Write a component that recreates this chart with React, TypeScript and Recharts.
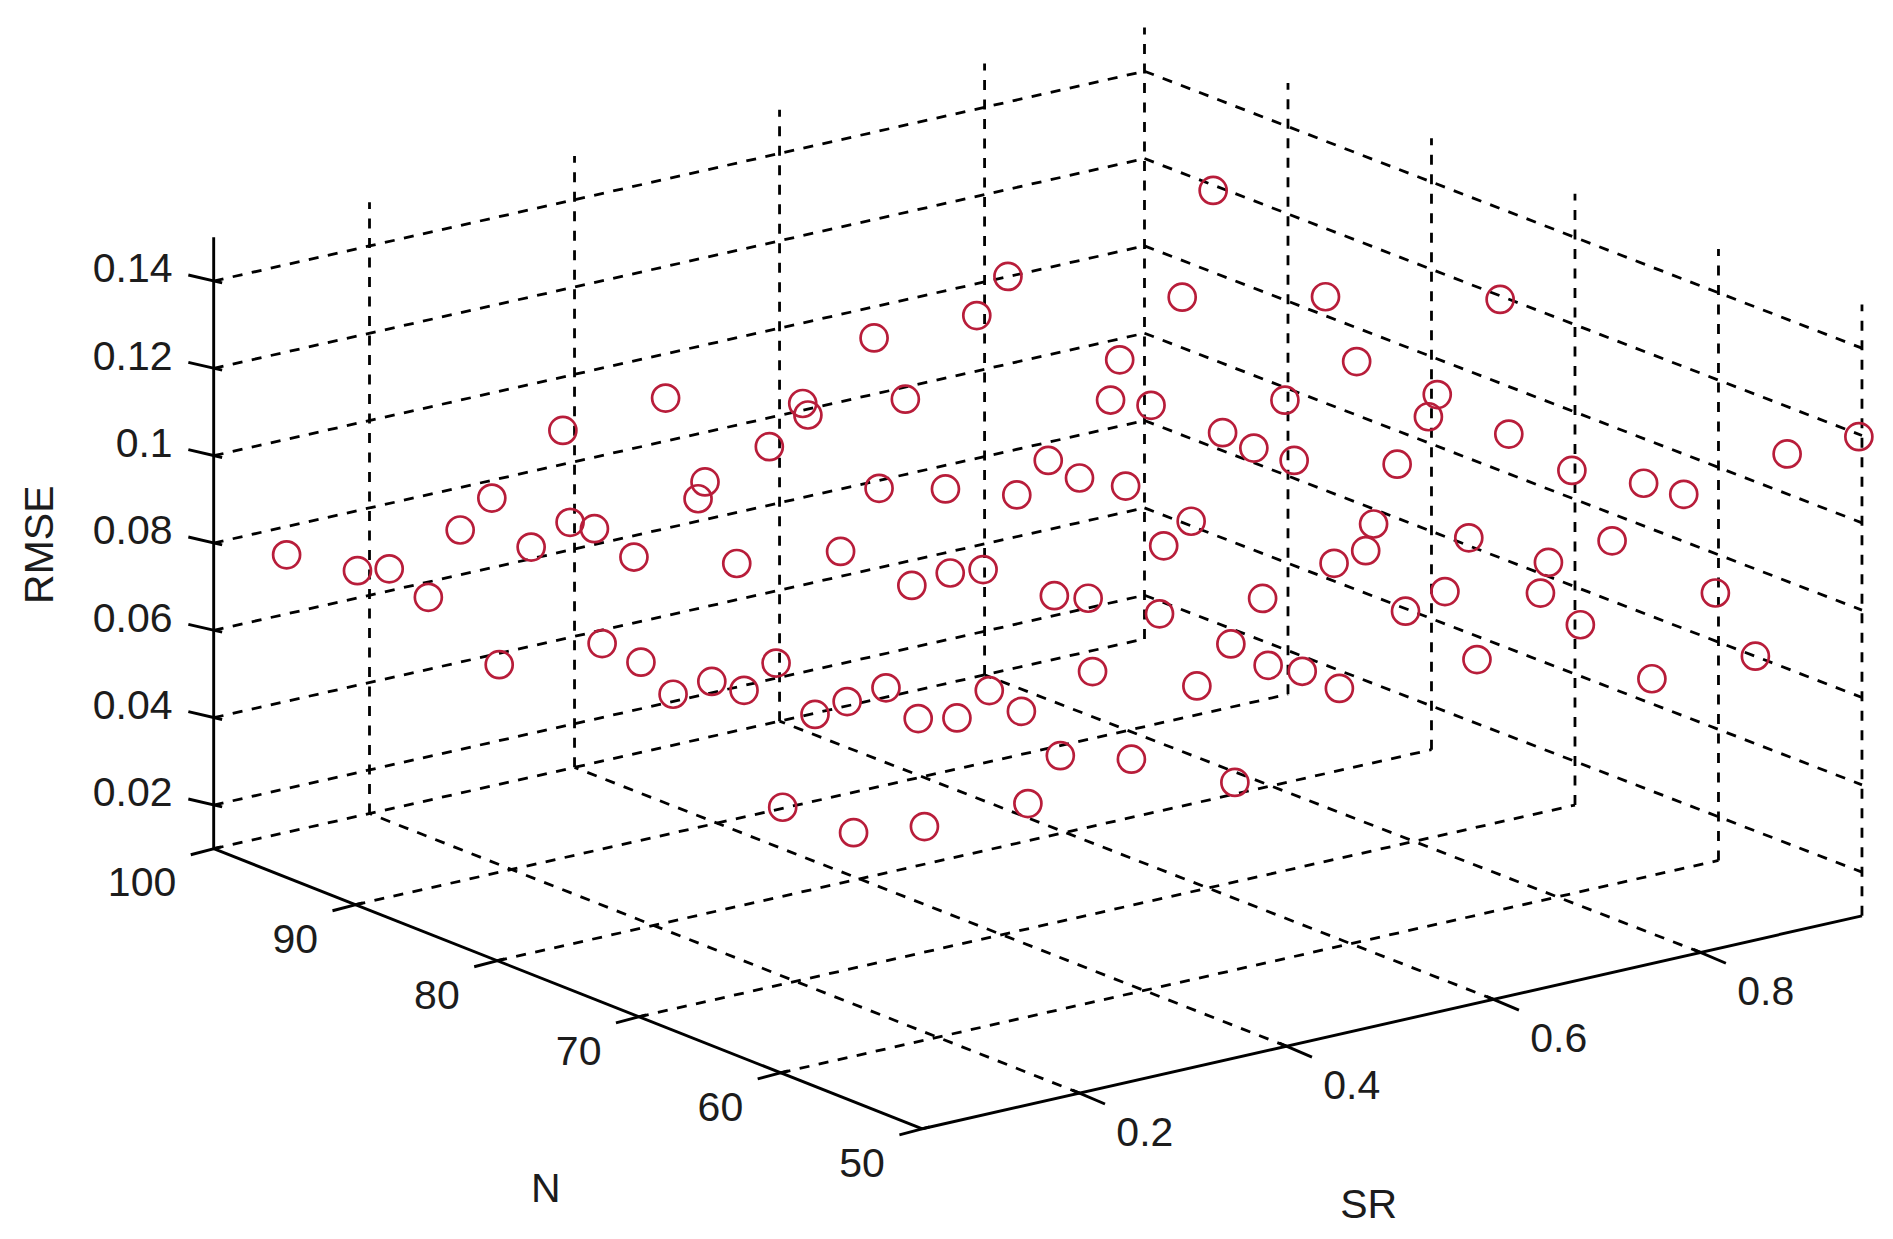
import React from "react";
import { ScatterChart, Scatter, XAxis, YAxis, ReferenceLine } from "recharts";

// axis limits and ticks
const srLimits = [0.048, 0.956];
const nLimits = [50, 100];
const rmseLimits = [0.01, 0.15];
const srTicks = [0.2, 0.4, 0.6, 0.8];
const nTicks = [50, 60, 70, 80, 90, 100];
const rmseTicks = [0.02, 0.04, 0.06, 0.08, 0.1, 0.12, 0.14];

// sampled grid, one RMSE row per N value
const srValues = [0.05, 0.15, 0.25, 0.35, 0.451, 0.553, 0.653, 0.753, 0.853, 0.953];
const nValues = [50, 55, 60, 65, 70, 75, 80, 85, 90, 95];
const rmseN50 = [0.0791, 0.079, 0.0838, 0.0731, 0.0892, 0.1059, 0.1072, 0.0752, 0.075, 0.1199];
const rmseN55 = [0.0713, 0.0922, 0.0782, 0.1209, 0.0881, 0.115, 0.0786, 0.0812, 0.1057, 0.1096];
const rmseN60 = [0.0707, 0.0927, 0.0867, 0.0857, 0.077, 0.0749, 0.0833, 0.1185, 0.0887, 0.0714];
const rmseN65 = [0.0931, 0.0802, 0.0739, 0.0702, 0.1164, 0.0748, 0.0879, 0.1212, 0.0704, 0.0902];
const rmseN70 = [0.0911, 0.0793, 0.0714, 0.0955, 0.0849, 0.0753, 0.0735, 0.0791, 0.0767, 0.0868];
const rmseN75 = [0.1167, 0.072, 0.0738, 0.1085, 0.0845, 0.0725, 0.0848, 0.0934, 0.0872, 0.1196];
const rmseN80 = [0.0777, 0.0772, 0.1089, 0.1189, 0.0745, 0.0898, 0.1154, 0.0934, 0.1192, 0.0864];
const rmseN85 = [0.0867, 0.0929, 0.0853, 0.0785, 0.0759, 0.0848, 0.086, 0.0933, 0.0782, 0.0927];
const rmseN90 = [0.0864, 0.0904, 0.1079, 0.11, 0.0935, 0.113, 0.1128, 0.0703, 0.1064, 0.0775];
const rmseN95 = [0.0836, 0.0751, 0.086, 0.0737, 0.0752, 0.0916, 0.0873, 0.1101, 0.0765, 0.1192];
const rmseRows = [rmseN50, rmseN55, rmseN60, rmseN65, rmseN70, rmseN75, rmseN80, rmseN85, rmseN90, rmseN95];

const WIDTH = 1893;
const HEIGHT = 1239;
const PLANE_W = 1568;
const PLANE_H = 1026.3;
const SCALE = WIDTH / PLANE_W;

// view projection of the 3d box onto the flat chart plane
function project(sr: number, n: number, rmse: number) {
  const s = (sr - srLimits[0]) / (srLimits[1] - srLimits[0]);
  const d = (n - nLimits[0]) / (nLimits[1] - nLimits[0]);
  return {
    x: 764 + 778.3 * s - 587 * d - 7.3 * s * d,
    y: 935 - 176.4 * s - 232 * d + 2.6 * s * d - 3617 * (rmse - rmseLimits[0]),
  };
}

const points = nValues.flatMap((n, row) =>
  srValues.map((sr, col) => project(sr, n, rmseRows[row][col]))
);

const [srMin, srMax] = srLimits;
const [nMin, nMax] = nLimits;
const [zMin, zMax] = rmseLimits;

type Seg = { from: { x: number; y: number }; to: { x: number; y: number } };
const seg = (a: number[], b: number[]): Seg => ({
  from: project(a[0], a[1], a[2]),
  to: project(b[0], b[1], b[2]),
});
const shift = (p: { x: number; y: number }, dx: number, dy: number) => ({ x: p.x + dx, y: p.y + dy });

const dashed: Seg[] = [
  // walls
  ...rmseTicks.flatMap((z) => [
    seg([srMin, nMax, z], [srMax, nMax, z]),
    seg([srMax, nMax, z], [srMax, nMin, z]),
  ]),
  ...srTicks.map((sr) => seg([sr, nMax, zMin], [sr, nMax, zMax])),
  ...nTicks.map((n) => seg([srMax, n, zMin], [srMax, n, zMax])),
  // floor
  ...srTicks.map((sr) => seg([sr, nMin, zMin], [sr, nMax, zMin])),
  ...nTicks.filter((n) => n !== nMin).map((n) => seg([srMin, n, zMin], [srMax, n, zMin])),
];

const solid: Seg[] = [
  seg([srMin, nMax, zMin], [srMin, nMax, zMax]),
  seg([srMin, nMax, zMin], [srMin, nMin, zMin]),
  seg([srMin, nMin, zMin], [srMax, nMin, zMin]),
  ...rmseTicks.map((z) => {
    const p = project(srMin, nMax, z);
    return { from: shift(p, -21, -5), to: shift(p, 7, 1.5) };
  }),
  ...srTicks.map((sr) => {
    const p = project(sr, nMin, zMin);
    return { from: shift(p, -6, -2.5), to: shift(p, 21, 9) };
  }),
  ...nTicks.map((n) => {
    const p = project(srMin, n, zMin);
    return { from: shift(p, -19, 5), to: shift(p, 6, -1.5) };
  }),
];

const rmseLabels = rmseTicks.map((z) => ({ ...project(srMin, nMax, z), label: String(z) }));
const nLabels = nTicks.map((n) => ({ ...project(srMin, n, zMin), label: String(n) }));
const srLabels = srTicks.map((sr) => ({ ...project(sr, nMin, zMin), label: String(sr) }));
const titleAnchors = [
  { ...project(srMin, nMax, 0.0785), label: "RMSE" },
  { ...project(srMin, 70, zMin), label: "N" },
  { ...project(0.4, nMin, zMin), label: "SR" },
];

const FONT = "'Liberation Sans', Arial, sans-serif";

const tickText =
  (dx: number, dy: number, anchor: "start" | "middle" | "end") =>
  (props: any) => (
    <text
      x={props.cx + dx * SCALE}
      y={props.cy + dy * SCALE}
      textAnchor={anchor}
      dominantBaseline="central"
      fontFamily={FONT}
      fontSize={41}
      fill="#1c1c1c"
    >
      {props.payload.label}
    </text>
  );

const titleText = (props: any) => {
  const label = props.payload.label;
  if (label === "RMSE") {
    const x = props.cx - 145 * SCALE;
    const y = props.cy - 4 * SCALE;
    return (
      <text x={x} y={y} transform={`rotate(-90 ${x} ${y})`} textAnchor="middle" dominantBaseline="central" fontFamily={FONT} fontSize={41} fill="#1c1c1c">
        {label}
      </text>
    );
  }
  const dx = label === "N" ? -77 : 68;
  const dy = label === "N" ? 142 : 131;
  return (
    <text x={props.cx + dx * SCALE} y={props.cy + dy * SCALE} textAnchor="middle" dominantBaseline="central" fontFamily={FONT} fontSize={41} fill="#1c1c1c">
      {label}
    </text>
  );
};

const marker = (props: any) => (
  <circle cx={props.cx} cy={props.cy} r={13.5} fill="none" stroke="#b81d3a" strokeWidth={2.7} />
);

export default function App() {
  return (
    <div style={{ width: WIDTH, height: HEIGHT, background: "#fff" }}>
      <style>{`body{margin:0;background:#fff}`}</style>
      <ScatterChart width={WIDTH} height={HEIGHT} margin={{ top: 0, right: 0, bottom: 0, left: 0 }}>
        <XAxis type="number" dataKey="x" domain={[0, PLANE_W]} hide />
        <YAxis type="number" dataKey="y" domain={[0, PLANE_H]} reversed hide width={0} />
        {dashed.map((l, i) => (
          <ReferenceLine
            key={`d${i}`}
            segment={[l.from, l.to]}
            stroke="#000"
            strokeWidth={2.8}
            strokeDasharray="10 9.5"
            ifOverflow="visible"
          />
        ))}
        {solid.map((l, i) => (
          <ReferenceLine key={`s${i}`} segment={[l.from, l.to]} stroke="#000" strokeWidth={2.9} ifOverflow="visible" />
        ))}
        <Scatter data={points} shape={marker} isAnimationActive={false} />
        <Scatter data={rmseLabels} shape={tickText(-34, -10.5, "end")} isAnimationActive={false} />
        <Scatter data={nLabels} shape={tickText(-31, 28, "end")} isAnimationActive={false} />
        <Scatter data={srLabels} shape={tickText(54, 32, "middle")} isAnimationActive={false} />
        <Scatter data={titleAnchors} shape={titleText} isAnimationActive={false} />
      </ScatterChart>
    </div>
  );
}
